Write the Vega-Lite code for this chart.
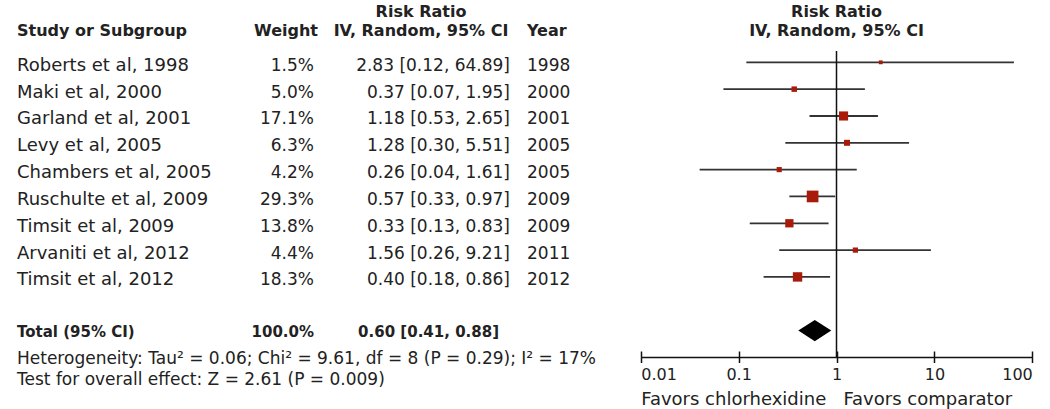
{
  "$schema": "https://vega.github.io/schema/vega-lite/v6.json",
  "width": 1050,
  "height": 306,
  "autosize": {"type": "none"},
  "padding": {"left": 0, "right": 0, "top": 51, "bottom": 52},
  "background": "white",
  "config": {
    "view": {"stroke": null},
    "text": {"font": "DejaVu Sans", "color": "#222"},
    "axis": {"labelFont": "DejaVu Sans", "titleFont": "DejaVu Sans"}
  },
  "datasets": {
    "studies": [
      {"row": "Roberts et al, 1998", "w": 0.015, "rr": 2.83, "lo": 0.12, "hi": 64.89, "ci": "2.83 [0.12, 64.89]", "year": "1998"},
      {"row": "Maki et al, 2000", "w": 0.05, "rr": 0.37, "lo": 0.07, "hi": 1.95, "ci": "0.37 [0.07, 1.95]", "year": "2000"},
      {"row": "Garland et al, 2001", "w": 0.171, "rr": 1.18, "lo": 0.53, "hi": 2.65, "ci": "1.18 [0.53, 2.65]", "year": "2001"},
      {"row": "Levy et al, 2005", "w": 0.063, "rr": 1.28, "lo": 0.30, "hi": 5.51, "ci": "1.28 [0.30, 5.51]", "year": "2005"},
      {"row": "Chambers et al, 2005", "w": 0.042, "rr": 0.26, "lo": 0.04, "hi": 1.61, "ci": "0.26 [0.04, 1.61]", "year": "2005"},
      {"row": "Ruschulte et al, 2009", "w": 0.293, "rr": 0.57, "lo": 0.33, "hi": 0.97, "ci": "0.57 [0.33, 0.97]", "year": "2009"},
      {"row": "Timsit et al, 2009", "w": 0.138, "rr": 0.33, "lo": 0.13, "hi": 0.83, "ci": "0.33 [0.13, 0.83]", "year": "2009"},
      {"row": "Arvaniti et al, 2012", "w": 0.044, "rr": 1.56, "lo": 0.26, "hi": 9.21, "ci": "1.56 [0.26, 9.21]", "year": "2011"},
      {"row": "Timsit et al, 2012", "w": 0.183, "rr": 0.40, "lo": 0.18, "hi": 0.86, "ci": "0.40 [0.18, 0.86]", "year": "2012"}
    ],
    "total": [
      {"row": "Total", "label": "Total (95% CI)", "w": 1.0, "rr": 0.60, "lo": 0.41, "hi": 0.88, "ci": "0.60 [0.41, 0.88]"}
    ],
    "headers": [
      {"row": "h", "col": "study", "text": "Study or Subgroup"},
      {"row": "h", "col": "weight", "text": "Weight"},
      {"row": "h", "col": "ci", "text": "Risk Ratio\nIV, Random, 95% CI"},
      {"row": "h", "col": "year", "text": "Year"},
      {"row": "h", "col": "plot", "text": "Risk Ratio\nIV, Random, 95% CI"}
    ],
    "notes": [
      {"row": "het", "text": "Heterogeneity: Tau² = 0.06; Chi² = 9.61, df = 8 (P = 0.29); I² = 17%\nTest for overall effect: Z = 2.61 (P = 0.009)"}
    ]
  },
  "layer": [
    {
      "layer": [
        {
          "data": {"name": "studies"},
          "mark": {"type": "text", "align": "left", "baseline": "middle", "dy": 3.5, "fontSize": 18},
          "encoding": {
            "x": {"datum": 17, "type": "quantitative", "scale": {"domain": [0, 1050], "range": [0, 1050], "nice": false, "zero": false}, "axis": {"orient": "top", "labels": false, "ticks": false, "grid": false, "title": null, "domain": true, "domainColor": "#444", "domainWidth": 1.5}},
            "y": {"field": "row", "type": "nominal", "scale": {"type": "point", "padding": 0, "range": [-15.5, 306.4], "domain": ["h", "Roberts et al, 1998", "Maki et al, 2000", "Garland et al, 2001", "Levy et al, 2005", "Chambers et al, 2005", "Ruschulte et al, 2009", "Timsit et al, 2009", "Arvaniti et al, 2012", "Timsit et al, 2012", "gap", "Total", "het"]}, "axis": null},
            "text": {"field": "row", "type": "nominal"}
          }
        },
        {
          "data": {"name": "studies"},
          "mark": {"type": "text", "align": "right", "baseline": "middle", "dy": 3.5, "fontSize": 17},
          "encoding": {
            "x": {"datum": 314, "type": "quantitative", "axis": null},
            "y": {"field": "row", "type": "nominal", "axis": null},
            "text": {"field": "w", "type": "quantitative", "format": ".1%"}
          }
        },
        {
          "data": {"name": "studies"},
          "mark": {"type": "text", "align": "right", "baseline": "middle", "dy": 3.5, "fontSize": 17},
          "encoding": {
            "x": {"datum": 510, "type": "quantitative", "axis": null},
            "y": {"field": "row", "type": "nominal", "axis": null},
            "text": {"field": "ci", "type": "nominal"}
          }
        },
        {
          "data": {"name": "studies"},
          "mark": {"type": "text", "align": "left", "baseline": "middle", "dy": 3.5, "fontSize": 17},
          "encoding": {
            "x": {"datum": 527, "type": "quantitative", "axis": null},
            "y": {"field": "row", "type": "nominal", "axis": null},
            "text": {"field": "year", "type": "nominal"}
          }
        },
        {
          "data": {"name": "total"},
          "mark": {"type": "text", "align": "left", "baseline": "middle", "dy": 1.5, "fontSize": 15, "fontWeight": "bold"},
          "encoding": {
            "x": {"datum": 17, "type": "quantitative", "axis": null},
            "y": {"field": "row", "type": "nominal", "axis": null},
            "text": {"field": "label", "type": "nominal"}
          }
        },
        {
          "data": {"name": "total"},
          "mark": {"type": "text", "align": "right", "baseline": "middle", "dy": 1.5, "fontSize": 15, "fontWeight": "bold"},
          "encoding": {
            "x": {"datum": 314, "type": "quantitative", "axis": null},
            "y": {"field": "row", "type": "nominal", "axis": null},
            "text": {"field": "w", "type": "quantitative", "format": ".1%"}
          }
        },
        {
          "data": {"name": "total"},
          "mark": {"type": "text", "align": "right", "baseline": "middle", "dy": 1.5, "fontSize": 15, "fontWeight": "bold"},
          "encoding": {
            "x": {"datum": 499, "type": "quantitative", "axis": null},
            "y": {"field": "row", "type": "nominal", "axis": null},
            "text": {"field": "ci", "type": "nominal"}
          }
        },
        {
          "data": {"name": "notes"},
          "mark": {"type": "text", "align": "left", "baseline": "middle", "dy": 2, "fontSize": 17, "lineBreak": "\n", "lineHeight": 20.5},
          "encoding": {
            "x": {"datum": 17, "type": "quantitative", "axis": null},
            "y": {"field": "row", "type": "nominal", "axis": null},
            "text": {"field": "text", "type": "nominal"}
          }
        },
        {
          "data": {"name": "headers"},
          "transform": [{"filter": "datum.col === 'study'"}],
          "mark": {"type": "text", "align": "left", "baseline": "alphabetic", "fontSize": 16, "fontWeight": "bold"},
          "encoding": {
            "x": {"datum": 17, "type": "quantitative", "axis": null},
            "y": {"field": "row", "type": "nominal", "axis": null},
            "text": {"field": "text", "type": "nominal"}
          }
        },
        {
          "data": {"name": "headers"},
          "transform": [{"filter": "datum.col === 'weight'"}],
          "mark": {"type": "text", "align": "right", "baseline": "alphabetic", "fontSize": 16, "fontWeight": "bold"},
          "encoding": {
            "x": {"datum": 318, "type": "quantitative", "axis": null},
            "y": {"field": "row", "type": "nominal", "axis": null},
            "text": {"field": "text", "type": "nominal"}
          }
        },
        {
          "data": {"name": "headers"},
          "transform": [{"filter": "datum.col === 'ci'"}],
          "mark": {"type": "text", "align": "center", "baseline": "alphabetic", "dy": -19, "fontSize": 16, "fontWeight": "bold", "lineBreak": "\n", "lineHeight": 19},
          "encoding": {
            "x": {"datum": 421, "type": "quantitative", "axis": null},
            "y": {"field": "row", "type": "nominal", "axis": null},
            "text": {"field": "text", "type": "nominal"}
          }
        },
        {
          "data": {"name": "headers"},
          "transform": [{"filter": "datum.col === 'year'"}],
          "mark": {"type": "text", "align": "left", "baseline": "alphabetic", "fontSize": 16, "fontWeight": "bold"},
          "encoding": {
            "x": {"datum": 527, "type": "quantitative", "axis": null},
            "y": {"field": "row", "type": "nominal", "axis": null},
            "text": {"field": "text", "type": "nominal"}
          }
        }
      ]
    },
    {
      "layer": [
        {
          "data": {"name": "studies"},
          "mark": {"type": "rule", "color": "#333", "strokeWidth": 1.8},
          "encoding": {
            "x": {"field": "lo", "type": "quantitative", "scale": {"type": "log", "domain": [0.01, 100], "range": [640.7, 1032.3], "nice": false},
              "axis": {"orient": "bottom", "offset": -6, "values": [0.01, 0.1, 1, 10, 100], "domain": false, "ticks": true, "tickSize": 6, "tickColor": "#111", "tickWidth": 1.5, "labels": false, "grid": false, "title": null}},
            "x2": {"field": "hi"},
            "y": {"field": "row", "type": "nominal", "axis": null}
          }
        },
        {
          "data": {"name": "studies"},
          "mark": {"type": "point", "shape": "square", "filled": true, "color": "#a81b0b", "opacity": 1, "strokeWidth": 0},
          "encoding": {
            "x": {"field": "rr", "type": "quantitative",
              "axis": {"orient": "bottom", "offset": -6, "values": [0.01, 0.1, 1, 10, 100], "domain": false, "ticks": true, "tickSize": 6, "tickColor": "#111", "tickWidth": 1.5, "labels": false, "grid": false, "title": null}},
            "y": {"field": "row", "type": "nominal", "axis": null},
            "size": {"field": "w", "type": "quantitative", "scale": {"domain": [0, 0.3], "range": [8, 140]}, "legend": null}
          }
        },
        {
          "data": {"name": "total"},
          "mark": {"type": "point", "shape": "M-1,0L0,-0.64L1,0L0,0.64Z", "size": 1089, "filled": true, "color": "#000", "opacity": 1, "strokeWidth": 0},
          "encoding": {
            "x": {"field": "rr", "type": "quantitative",
              "axis": {"orient": "bottom", "offset": -6, "values": [0.01, 0.1, 1, 10, 100], "domain": false, "ticks": true, "tickSize": 6, "tickColor": "#111", "tickWidth": 1.5, "labels": false, "grid": false, "title": null}},
            "y": {"field": "row", "type": "nominal", "axis": null}
          }
        },
        {
          "data": {"name": "headers"},
          "transform": [{"filter": "datum.col === 'plot'"}],
          "mark": {"type": "text", "align": "center", "baseline": "alphabetic", "dy": -19, "fontSize": 16, "fontWeight": "bold", "lineBreak": "\n", "lineHeight": 19},
          "encoding": {
            "x": {"datum": 1, "type": "quantitative",
              "axis": {"orient": "bottom", "offset": -6, "values": [0.01, 0.1, 1, 10, 100], "domain": false, "ticks": true, "tickSize": 6, "tickColor": "#111", "tickWidth": 1.5, "labels": false, "grid": false, "title": null}},
            "y": {"field": "row", "type": "nominal", "axis": null},
            "text": {"field": "text", "type": "nominal"}
          }
        }
      ]
    },
    {
      "data": {"values": [{}]},
      "mark": {"type": "rule", "color": "#111", "strokeWidth": 1.5},
      "encoding": {
        "x": {"datum": 1, "type": "quantitative", "scale": {"type": "log", "domain": [0.01, 100], "range": [640.7, 1032.3], "nice": false},
          "axis": {"orient": "bottom", "values": [0.01, 0.1, 1, 10, 100], "format": "~g", "labelFlush": true, "domain": true, "domainColor": "#111", "domainWidth": 1.5, "ticks": true, "tickSize": 5.5, "tickColor": "#111", "tickWidth": 1.5, "labelFontSize": 16, "labelColor": "#222", "labelPadding": 4, "grid": false,
            "title": "Favors chlorhexidine\u00a0\u00a0\u00a0Favors comparator", "titleAnchor": "start", "titleAlign": "left", "titleFontSize": 18, "titleFontWeight": "normal", "titleColor": "#222", "titlePadding": 8}}
      }
    }
  ],
  "resolve": {"scale": {"x": "independent"}}
}
